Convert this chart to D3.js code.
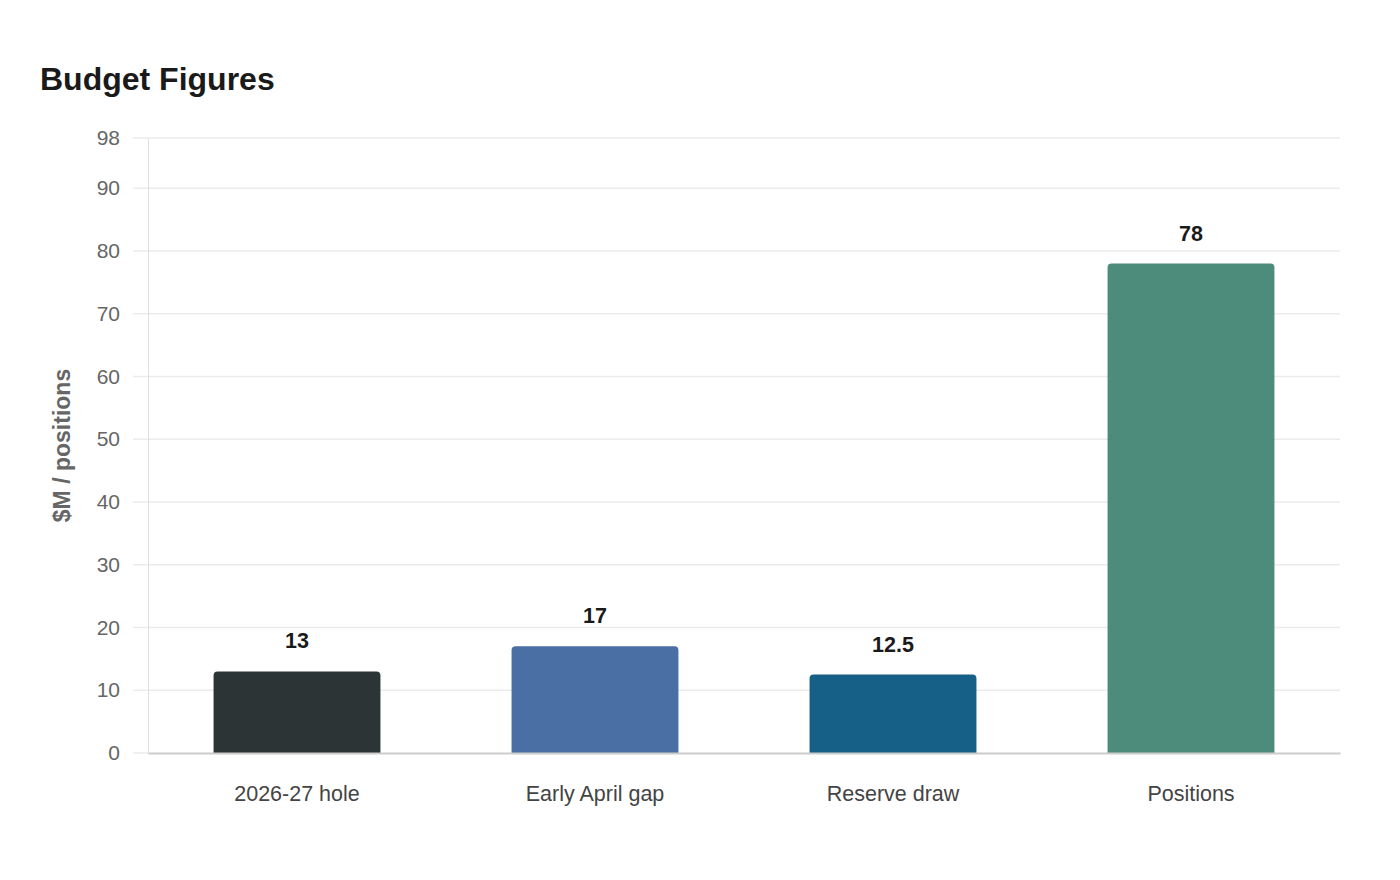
<!DOCTYPE html>
<html>
<head>
<meta charset="utf-8">
<script src="https://cdn.jsdelivr.net/npm/d3@7"></script>
<style>
  body { margin: 0; background: #fff; font-family: "Liberation Sans", Arial, sans-serif; }
</style>
</head>
<body>
<div id="chart"></div>
<script>
const categories = ["2026-27 hole", "Early April gap", "Reserve draw", "Positions"];
const values = [13, 17, 12.5, 78];
const colors = ["#2d3436", "#4a6fa5", "#166088", "#4d8b7a"];
const yTicks = [0, 10, 20, 30, 40, 50, 60, 70, 80, 90, 98];

const W = 1400, H = 880;
const margin = { top: 138, right: 60, bottom: 127, left: 148 };
const width = W - margin.left - margin.right,
    height = H - margin.top - margin.bottom;

const svg = d3.select("#chart").append("svg")
    .attr("width", W)
    .attr("height", H);

svg.append("text")
    .attr("x", 40).attr("y", 90)
    .style("font-size", "32px").style("font-weight", "bold").style("fill", "#1a1a1a")
    .text("Budget Figures");

const g = svg.append("g").attr("transform", `translate(${margin.left},${margin.top})`);

const x = d3.scaleBand().domain(categories).range([0, width])
    .paddingInner(0.44).paddingOuter(0.22);
const y = d3.scaleLinear().domain([0, 98]).range([height, 0]);

// grid
g.append("g")
    .selectAll("line")
    .data(yTicks.filter(d => d > 0))
    .enter().append("line")
    .attr("x1", -15).attr("x2", width)
    .attr("y1", d => y(d)).attr("y2", d => y(d))
    .attr("stroke", "#ebebeb").attr("stroke-width", 1.5);

// y axis
const yAxis = g.append("g")
    .call(d3.axisLeft(y).tickValues(yTicks).tickSize(0).tickPadding(28));
yAxis.select(".domain").attr("stroke", "#e0e0e0");
yAxis.selectAll("text").style("font-size", "21px").style("fill", "#666")
    .style("font-family", "Liberation Sans, Arial, sans-serif");

g.append("line")
    .attr("x1", -15).attr("x2", 0)
    .attr("y1", height).attr("y2", height)
    .attr("stroke", "#ebebeb").attr("stroke-width", 1.5);

// bars with rounded tops
const r = 4;
g.append("g").selectAll("path")
    .data(categories)
    .enter().append("path")
    .attr("fill", (d, i) => colors[i])
    .attr("d", (d, i) => {
        const x0 = x(d), w = x.bandwidth(), y0 = y(values[i]), y1 = y(0);
        return `M${x0},${y1}V${y0 + r}Q${x0},${y0} ${x0 + r},${y0}H${x0 + w - r}Q${x0 + w},${y0} ${x0 + w},${y0 + r}V${y1}Z`;
    });

// x axis
const xAxis = g.append("g")
    .attr("transform", `translate(0,${height})`)
    .call(d3.axisBottom(x).tickSize(0).tickPadding(33));
xAxis.select(".domain").attr("stroke", "#cccccc").attr("stroke-width", 2);
xAxis.selectAll("text").style("font-size", "21.5px").style("fill", "#444")
    .style("font-family", "Liberation Sans, Arial, sans-serif");

// value labels
g.append("g").selectAll("text")
    .data(categories)
    .enter().append("text")
    .attr("x", d => x(d) + x.bandwidth() / 2)
    .attr("y", (d, i) => y(values[i]) - 23)
    .attr("text-anchor", "middle")
    .style("font-size", "21.5px").style("font-weight", "bold").style("fill", "#1a1a1a")
    .text((d, i) => values[i]);

// y label
svg.append("text")
    .attr("transform", `translate(70,${margin.top + height / 2}) rotate(-90)`)
    .attr("text-anchor", "middle")
    .style("font-size", "23px").style("font-weight", "bold").style("fill", "#666")
    .text("$M / positions");
</script>
</body>
</html>
